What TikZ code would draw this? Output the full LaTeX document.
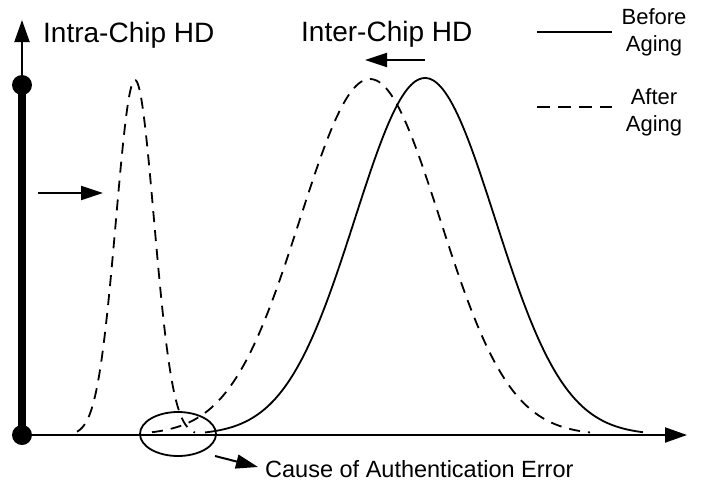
\documentclass[tikz,border=0pt]{standalone}
\usepackage{fontspec}
\setmainfont{Liberation Sans}
\usetikzlibrary{arrows.meta,shapes.geometric,positioning}
\tikzset{axisline/.style={line width=2pt, -{Triangle[length=22pt,width=15pt]}}}
\tikzset{shiftarrow/.style={line width=2pt, -{Triangle[length=22pt,width=14pt]}}}
\tikzset{curve/.style={line width=1.8pt, smooth, samples=120}}
\tikzset{aged/.style={curve, dash pattern=on 11pt off 8pt}}
\tikzset{titletext/.style={inner sep=0pt, anchor=base west, font=\fontsize{28}{32}\selectfont}}
\tikzset{legendtext/.style={inner sep=0pt, align=center, font=\fontsize{22}{27}\selectfont}}
\tikzset{dot/.style={circle, fill, inner sep=0pt, minimum size=20pt}}

\begin{document}
\begin{tikzpicture}[x=1pt,y=-1pt]
\useasboundingbox (0,0) rectangle (704,485);
% Axes
    \coordinate (Origin) at (22,435);
    \coordinate (YTop) at (22,85);
    \coordinate (YEnd) at (22,20);
    \coordinate (XEnd) at (687,435);

    \draw [axisline] (Origin) -- (XEnd);
    \draw [line width=8pt] (Origin) -- (YTop);
    \draw [axisline] (YTop) -- (YEnd);
    \node (OriginDot) [dot] at (Origin) {};
    \node (TopDot) [dot] at (YTop) {};

% Curves
    \draw [aged] plot[domain=77:195] (\x, {435-355*exp(-0.5*((\x-135)/19)*((\x-135)/19))});
    \draw [curve] plot[domain=205:643] (\x, {435-357*exp(-0.5*((\x-425)/70)*((\x-425)/70))});
    \draw [aged] plot[domain=152:590] (\x, {435-356*exp(-0.5*((\x-370)/70)*((\x-370)/70))});

% Labels
    \node (IntraText) [titletext] at (43,42) {Intra-Chip HD};
    \node (InterText) [titletext] at (301,41) {Inter-Chip HD};

    \node (BeforeText) [legendtext] at (654,32) {Before\\Aging};
    \node (AfterText) [legendtext] at (654,112) {After\\Aging};
    \coordinate (BeforeL) at (537,32);
    \coordinate (BeforeR) at (612,32);
    \coordinate (AfterL) at (537,107);
    \coordinate (AfterR) at (612,107);
    \draw [line width=1.8pt] (BeforeL) -- (BeforeR);
    \draw [line width=1.8pt, dash pattern=on 13pt off 8pt] (AfterL) -- (AfterR);

    \node (ErrorRegion) [ellipse, draw, line width=1.8pt, minimum width=76pt, minimum height=44pt, inner sep=0pt] at (178,434) {};
    \node (CauseText) [inner sep=0pt, anchor=base west, font=\fontsize{23.5}{27}\selectfont] at (265,477) {Cause of Authentication Error};

% Connectors
    \coordinate (IntraTail) at (38,193);
    \coordinate (IntraTip) at (103,193);
    \coordinate (InterTail) at (425,60);
    \coordinate (InterTip) at (365,60);
    \coordinate (CauseTail) at (215,456);
    \coordinate (CauseTip) at (258,467);

    \draw [shiftarrow] (IntraTail) -- (IntraTip);
    \draw [shiftarrow] (InterTail) -- (InterTip);
    \draw [shiftarrow] (CauseTail) -- (CauseTip);

\end{tikzpicture}
\end{document}
